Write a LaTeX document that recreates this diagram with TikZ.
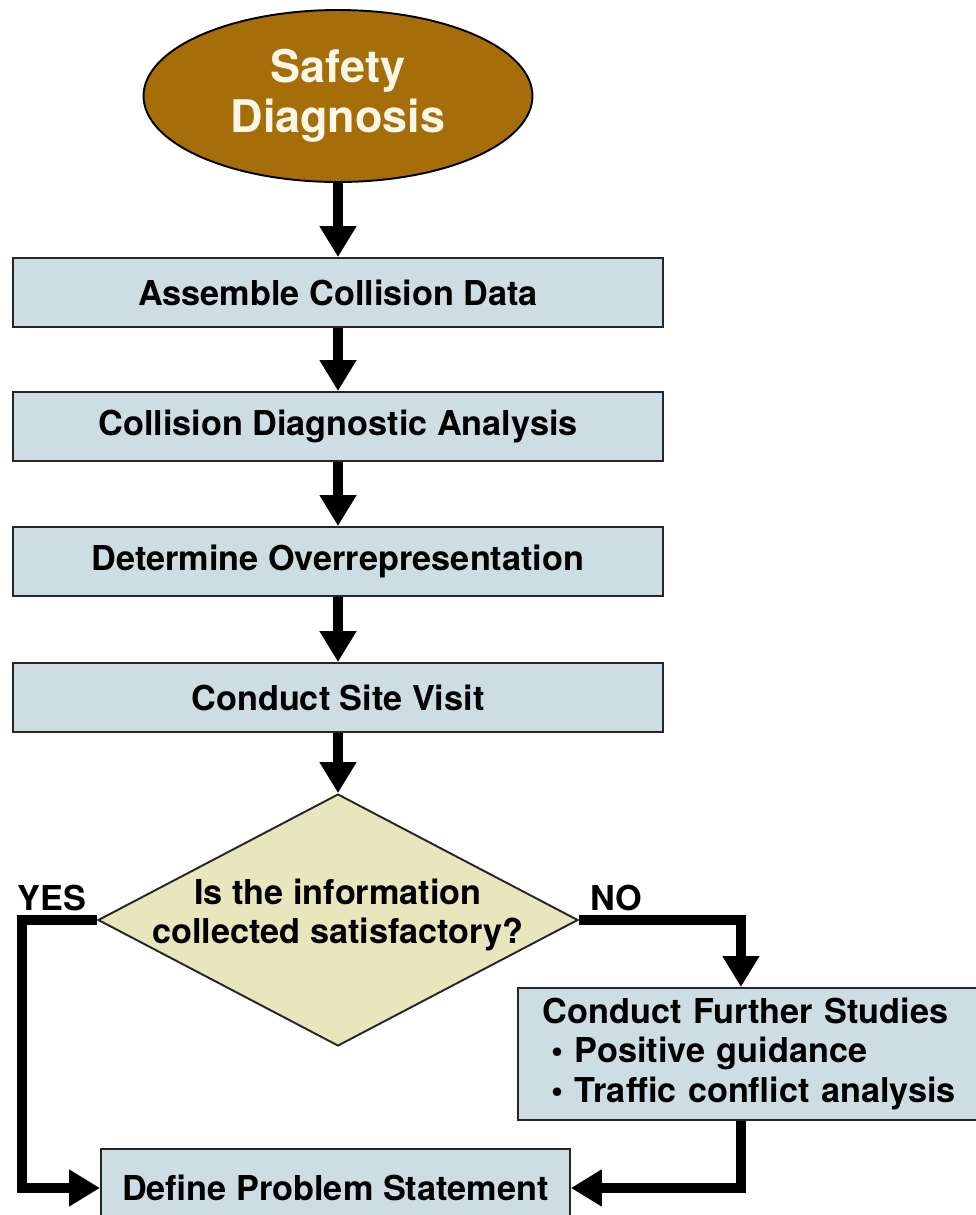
\documentclass[tikz,border=0pt]{standalone}
\usepackage{fontspec}
\setmainfont{TeX Gyre Heros}
\usetikzlibrary{arrows.meta,shapes.geometric}
\definecolor{brownfill}{HTML}{A66E08}
\definecolor{boxfill}{HTML}{CEDCE3}
\definecolor{qfill}{HTML}{E8E6BD}
\definecolor{cream}{HTML}{FAF6E8}
\newcommand{\boxfont}{\fontsize{19.5}{22.5}\selectfont\bfseries}
\begin{document}
\begin{tikzpicture}[x=0.02cm, y=-0.02cm,
  stepbox/.style={draw=black!85, line width=1.1pt, fill=boxfill, minimum width=13cm, minimum height=1.38cm, inner sep=0pt, font=\boxfont},
  flow/.style={line width=0.2cm, -{Triangle[length=0.62cm,width=0.7cm]}},
  lbl/.style={font=\boxfont, inner sep=0pt}]
  \useasboundingbox (0,0) rectangle (976,1215);
  \clip (0,0) rectangle (976,1215);
  % start and the four steps
  \node[ellipse, draw=black, line width=1.1pt, fill=brownfill, minimum width=7.78cm, minimum height=3.44cm, inner sep=0pt, align=center, text=cream, font=\fontsize{25.6}{28.5}\selectfont\bfseries] (start) at (338,96) {Safety\\Diagnosis};
  \node[stepbox] (s1) at (338,292.5) {Assemble Collision Data};
  \node[stepbox] (s2) at (338,426.5) {Collision Diagnostic Analysis};
  \node[stepbox] (s3) at (338,561.5) {Determine Overrepresentation};
  \node[stepbox] (s4) at (338,697.5) {Conduct Site Visit};
  % decision
  \node[diamond, draw=black!85, line width=1.1pt, fill=qfill, minimum width=9.6cm, minimum height=5.04cm, inner sep=0pt] (q) at (338,920) {};
  \node[lbl, align=center] (qt) at (338,915) {Is the information\\collected satisfactory?};
  \node[lbl] (yes) at (52,898) {YES};
  \node[lbl] (no) at (616,898) {NO};
  % outcomes
  \node[stepbox, anchor=north west, minimum width=9.36cm, minimum height=2.64cm, inner xsep=0.5cm, align=left, text width=8.36cm] (fs) at (517,987) {Conduct Further Studies\\\hspace*{0.25em}\textbullet\ Positive guidance\\\hspace*{0.25em}\textbullet\ Traffic conflict analysis};
  \node[stepbox, anchor=north west, minimum width=9.38cm, minimum height=1.56cm] (def) at (100,1148) {};
  \node[lbl] (deft) at (def.center) {Define Problem Statement};
  \draw[flow] (start) -- (s1);
  \draw[flow] (s1) -- (s2);
  \draw[flow] (s2) -- (s3);
  \draw[flow] (s3) -- (s4);
  \draw[flow] (s4) -- (q);
  \draw[flow] (q.west) -- ++(-75,0) |- (def.west);
  \draw[flow] (q.east) -| ([xshift=-0.22cm]fs.north);
  \draw[flow] ([xshift=-0.22cm]fs.south) |- (def.east);
\end{tikzpicture}
\end{document}
